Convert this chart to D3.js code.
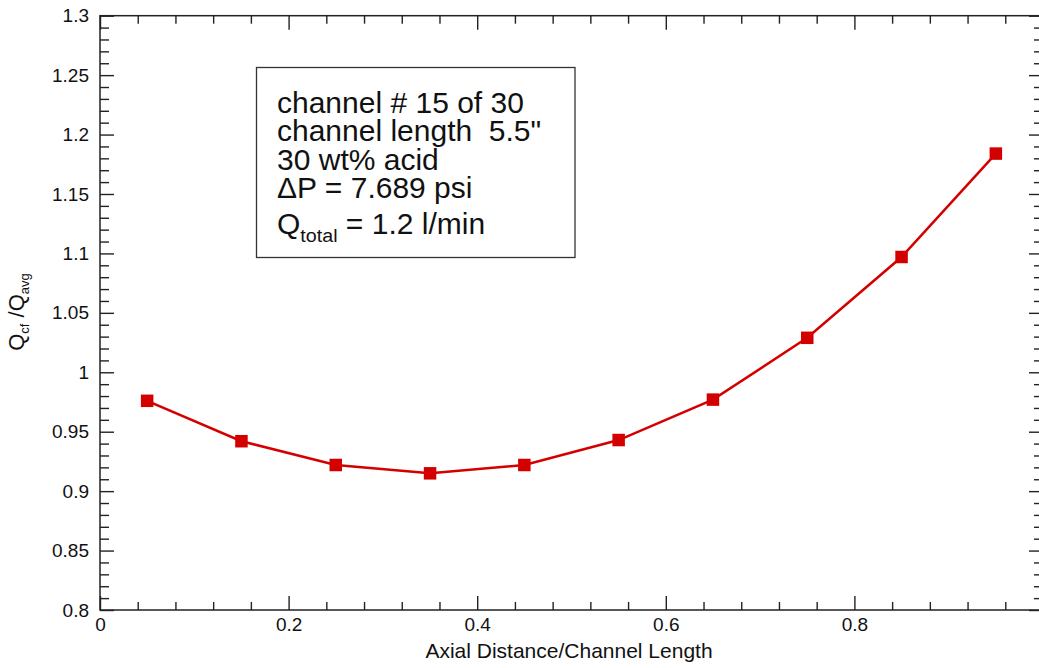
<!DOCTYPE html>
<html>
<head>
<meta charset="utf-8">
<script src="https://cdn.jsdelivr.net/npm/d3@7"></script>
<style>
  body { margin: 0; background: #fff; }
  svg { display: block; font-family: "Liberation Sans", Arial, sans-serif; }
</style>
</head>
<body>
<svg id="chart" width="1039" height="668"></svg>
<script>
// data
const axialPos = [0.05, 0.15, 0.25, 0.35, 0.45, 0.55, 0.65, 0.75, 0.85, 0.95];
const flowRatio = [0.976, 0.942, 0.922, 0.915, 0.922, 0.943, 0.977, 1.029, 1.097, 1.184];

const xMajorTicks = [0, 0.2, 0.4, 0.6, 0.8];
const xMinorTicks = [0.04, 0.08, 0.12, 0.16, 0.24, 0.28, 0.32, 0.36, 0.44, 0.48, 0.52, 0.56,
                     0.64, 0.68, 0.72, 0.76, 0.84, 0.88, 0.92, 0.96];
const yMajorTicks = [0.8, 0.85, 0.9, 0.95, 1, 1.05, 1.1, 1.15, 1.2, 1.25, 1.3];
const yMinorTicks = d3.range(80, 131).filter(v => v % 5 !== 0).map(v => v / 100);

const infoLines = ["channel # 15 of 30", "channel length  5.5\"", "30 wt% acid", "\u0394P = 7.689 psi"];

const svg = d3.select("#chart");
const plotLeft = 100, plotRight = 1043, plotTop = 15.7, plotBottom = 610;

const x = d3.scaleLinear().domain([0, 1]).range([plotLeft, plotRight]);
const y = d3.scaleLinear().domain([0.8, 1.3]).range([plotBottom, plotTop]);

const fmt = d3.format(".2~f");
const axisColor = "#222";

function styleAxis(g){
  g.select(".domain").remove();
  g.selectAll(".tick line").attr("stroke", axisColor).attr("stroke-width", 1.4);
  g.selectAll("text").attr("fill", "#111").style("font-size", "19px")
    .style("font-family", "'Liberation Sans', Arial, sans-serif");
}

// bottom
svg.append("g").attr("transform", `translate(0,${plotBottom})`)
  .call(d3.axisBottom(x).tickValues(xMajorTicks).tickSize(-14).tickPadding(8).tickFormat(fmt))
  .call(styleAxis);
svg.append("g").attr("transform", `translate(0,${plotBottom})`)
  .call(d3.axisBottom(x).tickValues(xMinorTicks).tickSize(-8).tickFormat(""))
  .call(styleAxis);
// top
svg.append("g").attr("transform", `translate(0,${plotTop})`)
  .call(d3.axisTop(x).tickValues(xMajorTicks).tickSize(-14).tickFormat(""))
  .call(styleAxis);
svg.append("g").attr("transform", `translate(0,${plotTop})`)
  .call(d3.axisTop(x).tickValues(xMinorTicks).tickSize(-8).tickFormat(""))
  .call(styleAxis);
// left
svg.append("g").attr("transform", `translate(${plotLeft},0)`)
  .call(d3.axisLeft(y).tickValues(yMajorTicks).tickSize(-14).tickPadding(11).tickFormat(fmt))
  .call(styleAxis);
svg.append("g").attr("transform", `translate(${plotLeft},0)`)
  .call(d3.axisLeft(y).tickValues(yMinorTicks).tickSize(-9).tickFormat(""))
  .call(styleAxis);
// right
svg.append("g").attr("transform", `translate(${plotRight},0)`)
  .call(d3.axisRight(y).tickValues(yMajorTicks).tickSize(-14).tickFormat(""))
  .call(styleAxis);
svg.append("g").attr("transform", `translate(${plotRight},0)`)
  .call(d3.axisRight(y).tickValues(yMinorTicks).tickSize(-9).tickFormat(""))
  .call(styleAxis);

// frame
svg.append("rect")
  .attr("x", plotLeft).attr("y", plotTop)
  .attr("width", plotRight - plotLeft).attr("height", plotBottom - plotTop)
  .attr("fill", "none").attr("stroke", axisColor).attr("stroke-width", 1.5);

// axis titles
svg.append("text")
  .attr("x", (plotLeft + 1038) / 2).attr("y", 658)
  .attr("text-anchor", "middle")
  .style("font-size", "21px").attr("fill", "#111")
  .text("Axial Distance/Channel Length");

const yTitle = svg.append("text")
  .attr("transform", "translate(24,312) rotate(-90)")
  .attr("text-anchor", "middle")
  .style("font-size", "22px").attr("fill", "#111");
yTitle.append("tspan").text("Q");
yTitle.append("tspan").attr("dy", 5).style("font-size", "13px").text("cf");
yTitle.append("tspan").attr("dy", -5).text(" /Q");
yTitle.append("tspan").attr("dy", 5).style("font-size", "13px").text("avg");

// info box
svg.append("rect")
  .attr("x", 256.5).attr("y", 67.5).attr("width", 318.5).attr("height", 190)
  .attr("fill", "#fff").attr("stroke", "#333").attr("stroke-width", 1.3);

const info = svg.append("g").attr("transform", "translate(277,0) scale(1.035,1)");
infoLines.forEach((t, i) => {
  info.append("text")
    .attr("x", 0).attr("y", 113 + i * 28.5)
    .attr("xml:space", "preserve")
    .style("white-space", "pre")
    .style("font-size", "29px").attr("fill", "#111")
    .text(t);
});
const qLine = info.append("text").attr("x", 0).attr("y", 234)
  .style("font-size", "29px").attr("fill", "#111");
qLine.append("tspan").text("Q");
qLine.append("tspan").attr("dy", 8).style("font-size", "19px").text("total");
qLine.append("tspan").attr("dy", -8).text(" = 1.2 l/min");

// series
const red = "#d40000";
const line = d3.line().x(d => x(d[0])).y(d => y(d[1]));
const pts = axialPos.map((p, i) => [p, flowRatio[i]]);

svg.append("path")
  .datum(pts)
  .attr("d", line)
  .attr("fill", "none")
  .attr("stroke", red)
  .attr("stroke-width", 2.5);

const ms = 12.5;
svg.selectAll(".marker")
  .data(pts)
  .enter()
  .append("rect")
  .attr("class", "marker")
  .attr("x", d => x(d[0]) - ms / 2)
  .attr("y", d => y(d[1]) - ms / 2)
  .attr("width", ms)
  .attr("height", ms)
  .attr("fill", red);
</script>
</body>
</html>
